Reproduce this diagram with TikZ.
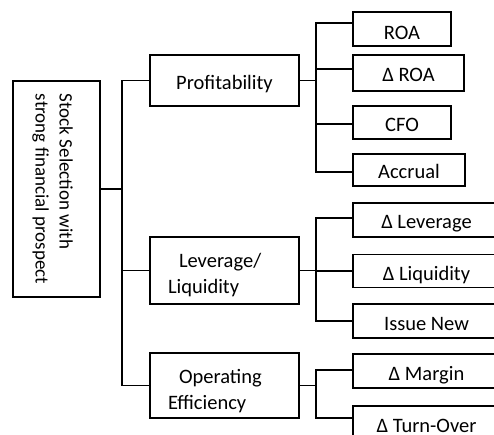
\documentclass[tikz,border=0pt]{standalone}
\usepackage{fontspec}
\setmainfont{Carlito}

\tikzset{
  box/.style={draw, line width=1.2pt, inner sep=0pt},
  leaf/.style={box, text height=18pt, text depth=0pt},
  link/.style={line width=1.2pt}
}

\begin{document}
\begin{tikzpicture}[x=1pt, y=-1pt, font=\fontsize{20.5}{26}\selectfont]
\useasboundingbox (0,0) rectangle (494,435);
\clip (0,0) rectangle (494,435);

% root
\node [box, rotate=-90, align=left, minimum width=216pt, minimum height=87pt, font=\fontsize{19}{24}\selectfont] (root) at (56.5,189) {\rule{0pt}{21pt}Stock Selection with\\strong financial prospect};

% second level
\node [leaf, text height=19pt, minimum width=149pt, minimum height=51pt] (prof) at (224.5,80.5) {Profitability};
\node [box, align=left, text width=113pt, minimum height=67pt, inner xsep=18pt] (lev) at (224.5,270.5) {\rule{0pt}{24pt}\hspace*{11pt}Leverage/\\Liquidity};
\node [box, align=left, text width=113pt, minimum height=65pt, inner xsep=18pt] (oper) at (224.5,385.5) {\rule{0pt}{26pt}\hspace*{11pt}Operating\\Efficiency};

% leaves
\node [leaf, text height=21pt, minimum width=98pt, minimum height=34pt] (roa) at (402,29) {ROA};
\node [leaf, text height=17pt, minimum width=111pt, minimum height=36pt] (droa) at (408.5,73) {Δ ROA};
\node [leaf, minimum width=98pt, minimum height=33pt] (cfo) at (402,122.5) {CFO};
\node [leaf, minimum width=112pt, minimum height=32pt] (accr) at (409,170) {Accrual};

\node [leaf, minimum width=147pt, minimum height=34pt] (dlev) at (426.5,220) {Δ Leverage};
\node [leaf, minimum width=147pt, minimum height=33.5pt] (dliq) at (426.5,271) {Δ Liquidity};
\node [leaf, minimum width=147pt, minimum height=34pt] (issue) at (426.5,321) {Issue New};

\node [leaf, minimum width=147pt, minimum height=34pt] (dmar) at (426.5,371) {Δ Margin};
\node [leaf, minimum width=147pt, minimum height=34pt] (dturn) at (426.5,423) {Δ Turn-Over};

% trunks
\coordinate (rj) at (122,186);
\coordinate (pj) at (316,81);
\coordinate (lj) at (316,269);
\coordinate (oj) at (316,388);

\draw [link] (root.north) -- (rj |- root.north);
\draw [link] (prof.west) -| (rj) |- (oper.west);
\draw [link] (lev.west) -- (lev.west -| rj);

\draw [link] (prof.east) -- (prof.east -| pj);
\draw [link] ([yshift=6pt]roa.west) -| (pj) |- ([yshift=-2pt]accr.west);
\draw [link] ([yshift=4pt]droa.west) -- ([yshift=4pt]droa.west -| pj);
\draw [link] ([yshift=-1.5pt]cfo.west) -- ([yshift=-1.5pt]cfo.west -| pj);

\draw [link] (lev.east) -- (lev.east -| lj);
\draw [link] ([yshift=2pt]dlev.west) -| (lj) |- (issue.west);
\draw [link] (dliq.west) -- (dliq.west -| lj);

\draw [link] (oper.east) -- (oper.east -| oj);
\draw [link] ([yshift=1pt]dmar.west) -| (oj) |- ([yshift=5pt]dturn.west);

\end{tikzpicture}
\end{document}
